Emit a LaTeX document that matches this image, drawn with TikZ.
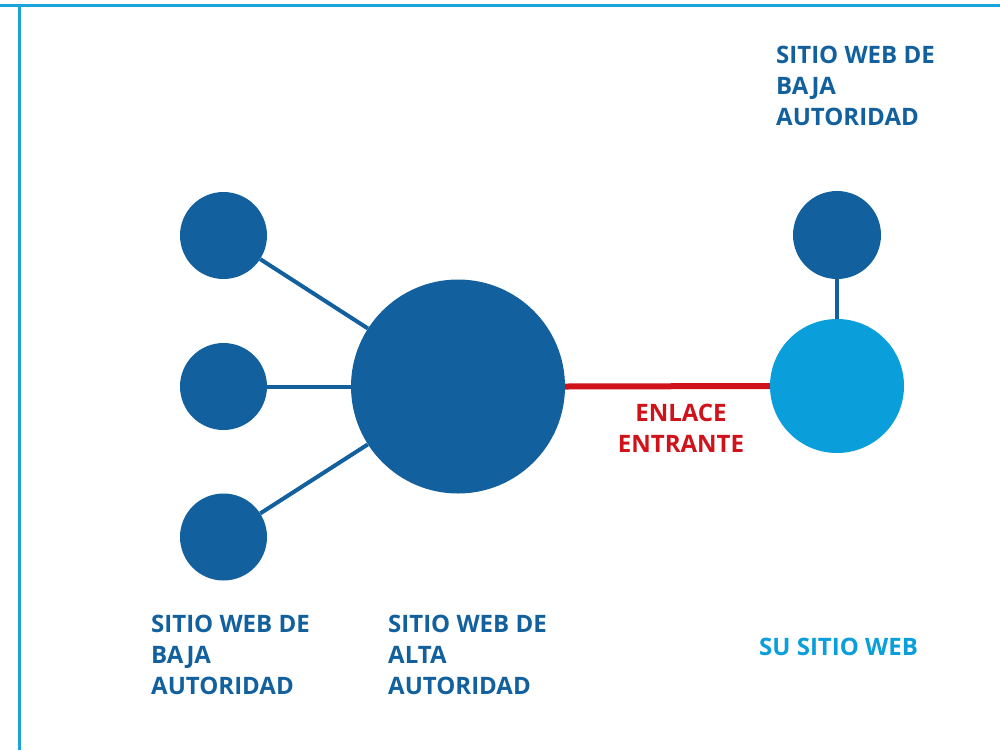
\documentclass[tikz,border=0pt]{standalone}
\usepackage{fontspec}
\setmainfont{Open Sans}
\definecolor{dblue}{HTML}{12619E}
\definecolor{lblue}{HTML}{0A9EDB}
\definecolor{frameblue}{HTML}{1BA3DB}
\definecolor{linkred}{HTML}{D0121B}
\begin{document}
\begin{tikzpicture}[x=1pt,y=-1pt,
  dot/.style={circle,fill=dblue,draw=none,inner sep=0pt,minimum size=#1},
  conn/.style={draw=dblue,line width=4pt},
  lbl/.style={anchor=north west,inner sep=0pt,align=left,font=\fontsize{24}{31}\selectfont\bfseries,text=dblue}]
\useasboundingbox (0,0) rectangle (1000,750);
\fill[white] (0,0) rectangle (1000,750);
% frame
\draw[frameblue,line width=3pt] (0,5.3) -- (1000,5.3);
\draw[frameblue,line width=3pt] (19,5.3) -- (19,750);
% circles
\node[dot=87pt] (s1) at (223.5,235.5) {};
\node[dot=87pt] (s2) at (223.5,386.5) {};
\node[dot=87pt] (s3) at (223.5,537) {};
\node[dot=214pt] (big) at (458,386.5) {};
\node[dot=88pt] (rt) at (837,235) {};
\node[circle,fill=lblue,inner sep=0pt,minimum size=134pt] (site) at (837,386) {};
% connectors
\draw[conn] (s1) -- (big);
\draw[conn] (s2) -- (big);
\draw[conn] (s3) -- (big);
\draw[conn] (rt) -- (site);
\draw[draw=linkred,line width=6pt] (big.east) -- (site.west);
% labels
\node[lbl] (ltop) at (776,46) {SITIO WEB DE\\BAJA\\AUTORIDAD};
\node[lbl] (lleft) at (151,615) {SITIO WEB DE\\BAJA\\AUTORIDAD};
\node[lbl] (lmid) at (388,615) {SITIO WEB DE\\ALTA\\AUTORIDAD};
\node[lbl,text=lblue] (lsite) at (759,638) {SU SITIO WEB};
\node[lbl,align=center,anchor=north,text=linkred] (llink) at (681,404) {ENLACE\\ENTRANTE};
\end{tikzpicture}
\end{document}
